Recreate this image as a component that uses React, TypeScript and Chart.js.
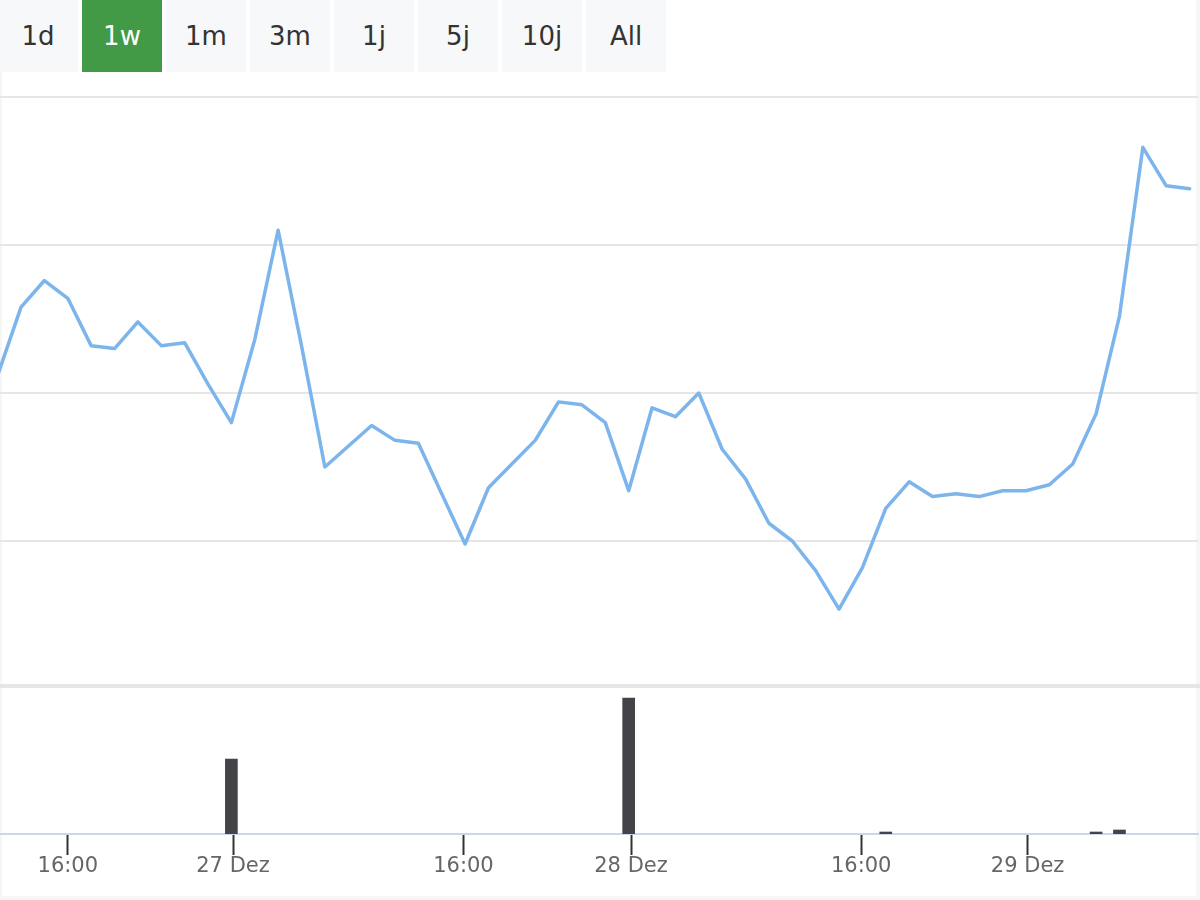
import { Chart, registerables } from "chart.js";
import { useEffect, useRef } from "react";

Chart.register(...registerables);

// hourly closing prices, ordinal axis (one slot per trading hour)
const prices = [
  20.56, 20.79, 20.88, 20.82, 20.66, 20.65, 20.74, 20.66, 20.67, 20.53,
  20.40, 20.68, 21.05, 20.66, 20.25, 20.32, 20.39, 20.34, 20.33, 20.16,
  19.99, 20.18, 20.26, 20.34, 20.47, 20.46, 20.40, 20.17, 20.45, 20.42,
  20.50, 20.31, 20.21, 20.06, 20.00, 19.90, 19.77, 19.91, 20.11, 20.20,
  20.15, 20.16, 20.15, 20.17, 20.17, 20.19, 20.26, 20.43, 20.76, 21.33,
  21.20, 21.19,
];

const volumes = [
  0, 0, 0, 0, 0, 0, 0, 0, 0, 0,
  3750, 0, 0, 0, 0, 0, 0, 0, 0, 0,
  0, 0, 0, 0, 0, 0, 0, 6800, 0, 0,
  0, 0, 0, 0, 0, 0, 0, 0, 100, 0,
  0, 0, 0, 0, 0, 0, 0, 100, 200, 0,
  0, 0,
];

const tickPositions = [3, 10.07, 19.93, 27.1, 36.95, 44.07];
const tickLabels = ["16:00", "27 Dez", "16:00", "28 Dez", "16:00", "29 Dez"];

const ranges = ["1d", "1w", "1m", "3m", "1j", "5j", "10j", "All"];
const selectedRange = "1w";

const X_MIN = 0.1;
const X_MAX = 51.36;
const FONT = "'DejaVu Sans', sans-serif";

const PriceChart = () => {
  const ref = useRef<HTMLCanvasElement | null>(null);

  useEffect(() => {
    const ctx = ref.current?.getContext("2d");
    if (!ctx) return;
    const chart = new Chart(ctx, {
      type: "line",
      data: {
        datasets: [
          {
            data: prices.map((y, i) => ({ x: i, y })),
            borderColor: "#7cb5ec",
            borderWidth: 3.5,
            borderJoinStyle: "round",
            borderCapStyle: "round",
            pointRadius: 0,
            tension: 0,
            clip: 0,
          },
        ],
      },
      options: {
        animation: false,
        responsive: false,
        layout: { padding: { top: 25, right: 2, left: 0, bottom: 0 } },
        plugins: { legend: { display: false }, tooltip: { enabled: false } },
        scales: {
          x: { type: "linear", min: X_MIN, max: X_MAX, display: false },
          y: {
            min: 19.5,
            max: 21.5,
            ticks: { display: false, stepSize: 0.5 },
            grid: {
              color: (c: any) => (c.tick && c.tick.value === 19.5 ? "rgba(0,0,0,0)" : "#e6e6e6"),
              lineWidth: 2,
              drawTicks: false,
            },
            border: { display: false },
            afterFit: (s: any) => {
              s.width = 0;
            },
          },
        },
      },
    });
    return () => chart.destroy();
  }, []);

  return <canvas ref={ref} width={1200} height={617} style={{ position: "absolute", left: 0, top: 72 }} />;
};

const VolumeChart = () => {
  const ref = useRef<HTMLCanvasElement | null>(null);

  useEffect(() => {
    const ctx = ref.current?.getContext("2d");
    if (!ctx) return;
    const chart = new Chart(ctx, {
      type: "bar",
      data: {
        datasets: [
          {
            // hours without trades draw no bar
            data: volumes.map((y, i) => ({ x: i, y })).filter((p) => p.y > 0),
            backgroundColor: "#434348",
            barThickness: 12,
            borderWidth: 0,
          },
        ],
      },
      options: {
        animation: false,
        responsive: false,
        layout: { padding: { top: 0, right: 2, left: 0, bottom: 0 } },
        plugins: { legend: { display: false }, tooltip: { enabled: false } },
        scales: {
          x: {
            type: "linear",
            min: X_MIN,
            max: X_MAX,
            offset: false,
            afterBuildTicks: (s: any) => {
              s.ticks = tickPositions.map((value) => ({ value }));
            },
            afterFit: (s: any) => {
              s.height = 66;
            },
            ticks: {
              autoSkip: false,
              maxRotation: 0,
              color: "#666666",
              padding: -1,
              font: { family: FONT, size: 21 },
              callback: (_v: any, i: number) => tickLabels[i],
            },
            grid: {
              offset: false,
              drawOnChartArea: false,
              drawTicks: true,
              tickLength: 21,
              tickColor: "#333333",
              tickWidth: 2,
            },
            border: { color: "#ccd6eb", width: 2 },
          },
          y: { min: 0, max: 7300, display: false },
        },
      },
    });
    return () => chart.destroy();
  }, []);

  return <canvas ref={ref} width={1200} height={212} style={{ position: "absolute", left: 0, top: 688 }} />;
};

export default function App() {
  return (
    <div style={{ position: "absolute", left: 0, top: 0, width: 1200, height: 900, background: "#fff", overflow: "hidden" }}>
      <div
        style={{
          position: "absolute",
          inset: 0,
          boxSizing: "border-box",
          borderLeft: "2px solid #f6f6f6",
          borderRight: "4px solid #f6f6f6",
          borderBottom: "4px solid #f6f6f6",
        }}
      />
      {ranges.map((r, i) => (
        <div
          key={r}
          style={{
            position: "absolute",
            left: -2 + i * 84,
            top: 0,
            width: 80,
            height: 72,
            lineHeight: "72px",
            textAlign: "center",
            fontFamily: FONT,
            fontSize: 26,
            background: r === selectedRange ? "#439a46" : "#f7f8fa",
            color: r === selectedRange ? "#ffffff" : "#333333",
          }}
        >
          {r}
        </div>
      ))}
      <PriceChart />
      <VolumeChart />
      <div style={{ position: "absolute", left: 0, top: 684, width: 1200, height: 4, background: "#e6e6e6" }} />
    </div>
  );
}
